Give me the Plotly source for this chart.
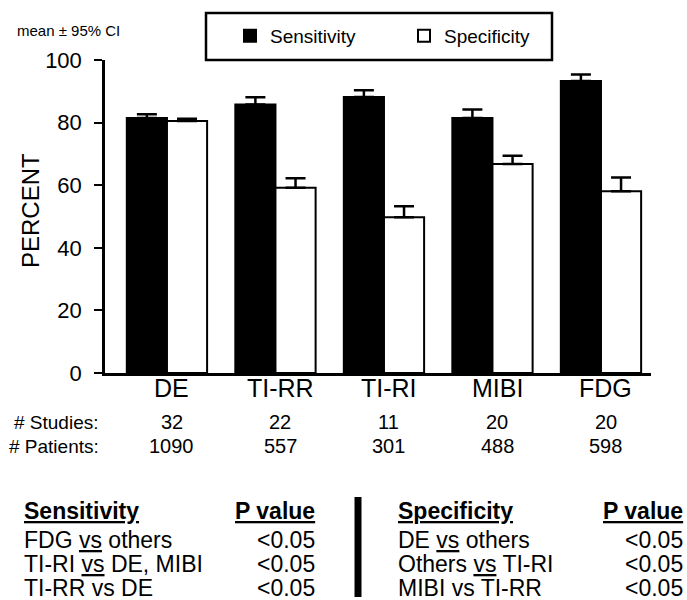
import plotly.graph_objects as go

categories = ["DE", "TI-RR", "TI-RI", "MIBI", "FDG"]
sensitivity = [81.5, 85.8, 88.2, 81.5, 93.3]
sensitivity_ci = [1.2, 2.3, 2.1, 2.7, 2.1]
specificity = [80.5, 59.2, 49.8, 66.8, 58.1]
specificity_ci = [0.7, 3.0, 3.5, 2.6, 4.4]
studies = ["32", "22", "11", "20", "20"]
patients = ["1090", "557", "301", "488", "598"]

sens_rows = [("FDG <u>vs</u> others", "<0.05"),
             ("TI-RI <u>vs</u> DE, MIBI", "<0.05"),
             ("TI-RR vs DE", "<0.05")]
spec_rows = [("DE <u>vs</u> others", "<0.05"),
             ("Others <u>vs</u> TI-RI", "<0.05"),
             ("MIBI vs TI-RR", "<0.05")]

FONT = "Arial, Liberation Sans, sans-serif"
W, H = 687, 600
PL, PR, PT, PB = 105, 651, 60, 373  # plot area in pixels
PW = PR - PL
PH = PB - PT


def px(x):
    return (x - PL) / PW


def py(y):
    return (PB - y) / PH


fig = go.Figure()
fig.add_trace(go.Bar(
    x=categories, y=sensitivity, name="Sensitivity",
    marker=dict(color="black", line=dict(color="black", width=2)),
    error_y=dict(type="data", symmetric=False, array=sensitivity_ci,
                 arrayminus=[0] * 5, color="black", thickness=2.5, width=10),
))
fig.add_trace(go.Bar(
    x=categories, y=specificity, name="Specificity",
    marker=dict(color="white", line=dict(color="black", width=2)),
    error_y=dict(type="data", symmetric=False, array=specificity_ci,
                 arrayminus=[0] * 5, color="black", thickness=2.5, width=10),
))


def txt(text, x, y, anchor, size, xref="paper", **kw):
    return dict(text=text, x=x, y=y, xref=xref, yref="paper", xanchor=anchor,
                yanchor="middle", showarrow=False,
                font=dict(size=size, family=FONT, color="black"), **kw)


ann = []
ann.append(txt("mean ± 95% CI", px(15), py(30), "left", 15))
ann.append(txt("PERCENT", px(30), py(211), "center", 24, textangle=-90))
for c in categories:
    ann.append(txt(c, c, py(388), "center", 25, xref="x", xshift=5))
ann.append(txt("# Studies:", px(101), py(422), "right", 19))
ann.append(txt("# Patients:", px(101), py(446), "right", 19))
for c, s, p in zip(categories, studies, patients):
    ann.append(txt(s, c, py(422), "center", 20, xref="x", xshift=5))
    ann.append(txt(p, c, py(446), "center", 20, xref="x", xshift=5))

TS = 23
ann.append(txt("<b><u>Sensitivity</u></b>", px(22), py(511), "left", TS))
ann.append(txt("<b><u>P value</u></b>", px(317), py(511), "right", TS))
ann.append(txt("<b><u>Specificity</u></b>", px(396), py(511), "left", TS))
ann.append(txt("<b><u>P value</u></b>", px(685), py(511), "right", TS))
for i, ((a, b), (c, d)) in enumerate(zip(sens_rows, spec_rows)):
    yy = py(540 + 24 * i)
    ann.append(txt(a, px(22), yy, "left", TS))
    ann.append(txt(b, px(317), yy, "right", TS))
    ann.append(txt(c, px(396), yy, "left", TS))
    ann.append(txt(d, px(685), yy, "right", TS))

fig.update_layout(
    width=W, height=H,
    margin=dict(l=PL, r=W - PR, t=PT, b=H - PB, autoexpand=False),
    paper_bgcolor="white", plot_bgcolor="white",
    barmode="group", bargap=0.26, bargroupgap=0,
    font=dict(family=FONT, color="black"),
    showlegend=True,
    legend=dict(orientation="h", x=px(230), y=py(17), xanchor="left", yanchor="top",
                borderwidth=0, bgcolor="rgba(0,0,0,0)",
                font=dict(size=19, family=FONT, color="black"),
                entrywidth=129, itemsizing="constant"),
    annotations=ann,
    shapes=[
        dict(type="line", xref="paper", yref="paper", x0=px(358), x1=px(358),
             y0=py(497), y1=py(597), line=dict(color="black", width=7)),
        dict(type="rect", xref="paper", yref="paper", x0=px(206), x1=px(552),
             y0=py(13), y1=py(60), line=dict(color="black", width=2.5)),
    ],
)
fig.update_xaxes(range=[-0.571, 4.461], showline=True, linecolor="black", linewidth=2.5,
                 ticks="", showticklabels=False, showgrid=False, zeroline=False)
fig.update_yaxes(range=[0, 100], tickvals=[0, 20, 40, 60, 80, 100], showline=True,
                 linecolor="black", linewidth=2.5, ticks="outside", ticklen=8, tickwidth=2,
                 tickcolor="black", tickfont=dict(size=22, family=FONT, color="black"),
                 ticklabelstandoff=8,
                 showgrid=False, zeroline=False)

fig.write_html("out.html", config={"displayModeBar": False},
               post_script="document.body.style.margin='0';document.body.style.overflow='hidden';")
